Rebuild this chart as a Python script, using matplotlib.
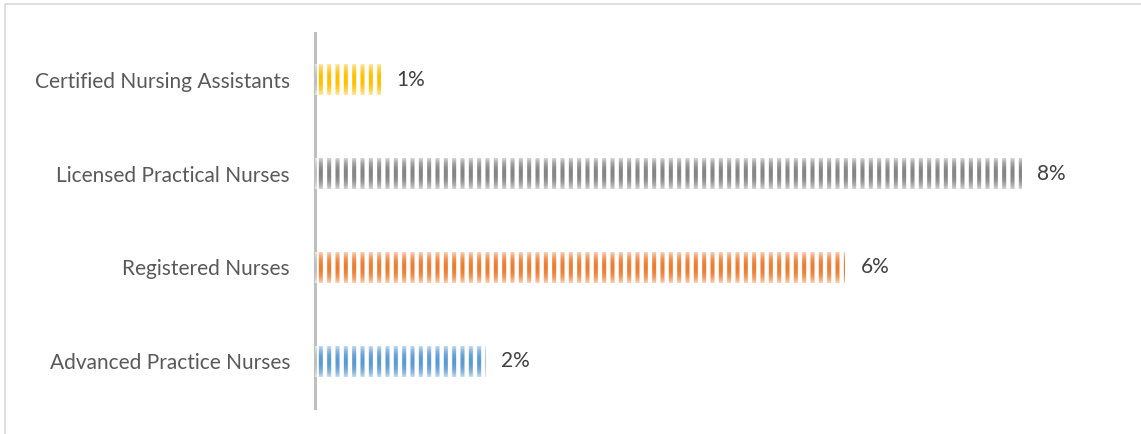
import numpy as np
import matplotlib.pyplot as plt
from matplotlib.patches import Rectangle

categories = ['Advanced Practice Nurses', 'Registered Nurses',
              'Licensed Practical Nurses', 'Certified Nursing Assistants']
values = [1.93, 6.0, 8.0, 0.75]
labels = ['2%', '6%', '8%', '1%']
colors = ['#5B9BD5', '#ED7D31', '#858585', '#FFC000']


def main():
    plt.rcParams['font.family'] = ['Lato', 'DejaVu Sans']
    plt.rcParams['hatch.linewidth'] = 2.9
    fig = plt.figure(figsize=(11.41, 4.34), dpi=100)
    fig.patches.append(Rectangle((5 / 1141, -0.1), 1.1, (434 - 4) / 434 + 0.1,
                                 transform=fig.transFigure, fill=False,
                                 edgecolor='#D9D9D9', linewidth=1.2))
    ax = fig.add_axes([315 / 1141, 26 / 434, 795.6 / 1141, 375 / 434])
    y = np.arange(len(categories))
    h = 0.33

    bars = ax.barh(y, values, height=h, color='none', edgecolor=colors,
                   hatch='||', linewidth=0)

    # white vertical gradient on top of the stripes, lighter at top and bottom
    t = np.linspace(-1, 1, 64)
    grad = np.ones((64, 1, 4))
    grad[:, 0, 3] = 0.65 * np.abs(t) ** 2.2
    for bar, v, i in zip(bars, values, y):
        im = ax.imshow(grad, extent=(0, v, i - h / 2, i + h / 2), aspect='auto',
                       interpolation='bilinear', zorder=3)
        im.set_clip_path(bar)

    for i, (v, lab) in enumerate(zip(values, labels)):
        ax.text(v + 0.17, i, lab, va='center', ha='left', fontsize=15, color='#404040')

    ax.set_xlim(0, 9)
    ax.set_ylim(-0.5, 3.5)
    ax.set_yticks(list(y))
    ax.set_yticklabels(categories, fontsize=15, color='#595959')
    ax.tick_params(axis='y', length=0, pad=18)
    ax.set_xticks([])
    for s in ['top', 'right', 'bottom']:
        ax.spines[s].set_visible(False)
    ax.spines['left'].set_color('#BFBFBF')
    ax.spines['left'].set_linewidth(2.2)

    fig.savefig('out.png', dpi=100)


if __name__ == "__main__":
    main()
